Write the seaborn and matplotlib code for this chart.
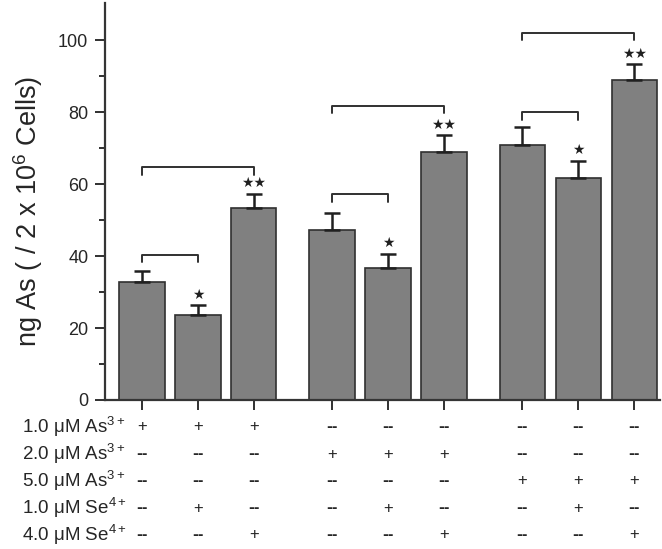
import numpy as np
import matplotlib
matplotlib.use("Agg")
import matplotlib.pyplot as plt
import matplotlib.transforms as mtransforms
import seaborn as sns

# bar positions: three groups of three treatments, gap between groups
positions = [0, 1, 2, 3.4, 4.4, 5.4, 6.8, 7.8, 8.8]
as_ng = [32.7, 23.6, 53.4, 47.1, 36.8, 68.8, 70.8, 61.8, 88.9]
sem = [3.2, 2.7, 3.9, 4.9, 3.8, 4.8, 5.0, 4.6, 4.4]
stars = ["", "*", "**", "", "*", "**", "", "*", "**"]

# brackets: (first bar, last bar, height of the top line)
brackets = [(0, 1, 40.3), (0, 2, 64.6), (3, 4, 57.1),
            (3, 5, 81.8), (6, 7, 79.9), (6, 8, 102.0)]

row_labels = ["1.0 \u03bcM As$^{3+}$", "2.0 \u03bcM As$^{3+}$", "5.0 \u03bcM As$^{3+}$",
              "1.0 \u03bcM Se$^{4+}$", "4.0 \u03bcM Se$^{4+}$"]
row_marks = [
    ["+", "+", "+", "--", "--", "--", "--", "--", "--"],
    ["--", "--", "--", "+", "+", "+", "--", "--", "--"],
    ["--", "--", "--", "--", "--", "--", "+", "+", "+"],
    ["--", "+", "--", "--", "+", "--", "--", "+", "--"],
    ["--", "--", "+", "--", "--", "+", "--", "--", "+"],
]

sns.set_style("ticks")
plt.rcParams['font.family'] = ['Liberation Sans', 'DejaVu Sans']
plt.rcParams['mathtext.default'] = 'regular'

W, H = 662, 549
fig = plt.figure(figsize=(W / 100, H / 100), dpi=100)
ax = fig.add_axes([105 / W, 1 - 400 / H, (660 - 105) / W, (400 - 3) / H])

sns.barplot(x=positions, y=as_ng, native_scale=True, width=0.81,
            color="#808080", saturation=1, edgecolor="#303030",
            linewidth=1.2, ax=ax)
ax.errorbar(positions, as_ng, yerr=[np.zeros(len(sem)), sem], fmt="none",
            ecolor="#202020", elinewidth=1.8, capsize=5.5, capthick=1.8, zorder=3)

for x, y, e, s in zip(positions, as_ng, sem, stars):
    if s:
        ax.text(x, y + e + 1.0, s.replace("*", "\u2605"), ha="center", va="bottom",
                fontsize=10, color="#202020", family=["DejaVu Sans"])

for a, b, h in brackets:
    xa, xb = positions[a], positions[b]
    ax.plot([xa, xa, xb, xb], [h - 2, h, h, h - 2], color="#303030", lw=1.4)

ax.set_xlim(-0.66, 9.26)
ax.set_ylim(0, 110.3)
ax.set_yticks([0, 20, 40, 60, 80, 100])
ax.set_yticks([10, 30, 50, 70, 90], minor=True)
ax.set_xticks(positions)
ax.set_xticklabels([])
ax.tick_params(axis="both", direction="out", length=7, width=1.4, color="#303030",
               labelsize=13, pad=5)
ax.tick_params(axis="y", which="minor", direction="out", length=4, width=1.4, color="#303030")
ax.set_ylabel("ng As ( / 2 x 10$^{6}$ Cells)", fontsize=19.5)
ax.yaxis.set_label_coords(-0.108, 0.475)
sns.despine(ax=ax)
for sp in ["left", "bottom"]:
    ax.spines[sp].set_linewidth(1.6)
    ax.spines[sp].set_color("#353535")

# treatment table under the bars
tr = mtransforms.blended_transform_factory(ax.transData, fig.transFigure)
row_y = [427, 454, 481, 508, 535]
for lab, marks, py in zip(row_labels, row_marks, row_y):
    fig.text(22 / W, 1 - py / H, lab, ha="left", va="center", fontsize=13.5)
    for x, m in zip(positions, marks):
        if m == "+":
            ax.text(x, 1 - py / H, m, transform=tr, ha="center", va="center",
                    fontsize=12, clip_on=False)
        else:
            ax.text(x, 1 - py / H, m, transform=tr, ha="center", va="center",
                    fontsize=10, fontweight="bold", family=["DejaVu Sans"],
                    clip_on=False)

fig.savefig("out.png", dpi=100)
